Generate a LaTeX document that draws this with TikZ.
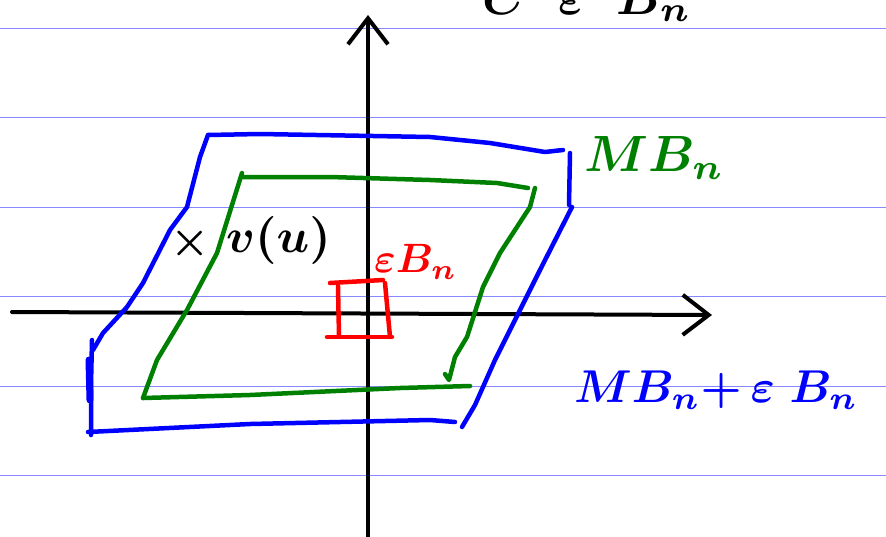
\documentclass[tikz,border=0pt]{standalone}
\usepackage{graphicx}
\usetikzlibrary{arrows.meta}
\definecolor{rule}{RGB}{135,135,255}
\definecolor{pen blue}{RGB}{0,0,255}
\definecolor{pen green}{RGB}{0,128,0}
\definecolor{pen red}{RGB}{255,0,0}
\newcommand{\hand}[2]{\scalebox{#1}{\boldmath#2}}
\begin{document}
\begin{tikzpicture}[x=1pt,y=-1pt,line cap=round,line join=round,
	ruled/.style={draw=rule,line width=1pt},
	axis/.style={line width=4pt,-{Straight Barb[length=26pt,width=40pt]}},
	pen/.style={line width=4.5pt}]
	\useasboundingbox (0,0) rectangle (886,536);
	\clip (0,0) rectangle (886,536);
	\foreach \y in {28,117.5,207,296.5,386,475.5}\draw[ruled] (0,\y)--(886,\y);
		\path
	(12,312) coordinate (W)
	(712,315) coordinate (E)
	(368,540) coordinate (S)
	(368,15) coordinate (N)
	;
	\draw[axis] (W)--(E);
	\draw[axis] (S)--(N);
	% outer set
	\draw[pen,pen blue] (208,135)--(260,134)--(430,137)--(490,143)--(545,152)--(563,150);
	\draw[pen,pen blue] (570,153)--(569,205);
	\draw[pen,pen blue] (572,207)--(540,270)--(520,310)--(495,360)--(475,405)--(462,427);
	\draw[pen,pen blue] (455,422)--(430,420)--(250,424)--(88,432);
	\draw[pen,pen blue] (92,340)--(91,385)--(91,435);
	\draw[line width=7pt,pen blue] (89,360)--(90,400);
	\draw[pen,pen blue] (208,135)--(200,157)--(187,207)--(170,230)--(143,283)--(127,307)--(103,333)--(93,350);
	% inner set
	\draw[pen,pen green] (242,173)--(217,253)--(187,310)--(157,360)--(143,398);
	\draw[pen,pen green] (242,177)--(330,177)--(430,180)--(497,183)--(528,188);
	\draw[pen,pen green] (535,188)--(530,207)--(500,253)--(483,287)--(467,337)--(455,357)--(449,380)--(445,374);
	\draw[pen,pen green] (143,398)--(250,395)--(400,388)--(470,386);
	% small box
	\draw[pen,pen red] (330,283)--(383,280);
	\draw[pen,pen red] (338,286)--(339,336);
	\draw[pen,pen red] (385,283)--(390,337);
	\draw[pen,pen red] (327,337)--(392,337);
	% labels
	\node (pt) at (190,243) {\hand{4.4}{$\times$}};
	\node[anchor=west,inner sep=0pt] (vu) at (226,240) {\hand{4.8}{$v(u)$}};
	\node[text=pen red,anchor=west,inner sep=0pt] (eps) at (374,262) {\hand{4.1}{$\varepsilon B_n$}};
	\node[text=pen green,anchor=west,inner sep=0pt] (mb) at (584,158) {\hand{5.1}{$MB_n$}};
	\node[text=pen blue,anchor=west,inner sep=0pt] (sum) at (574,390) {\hand{4.6}{$MB_n{+}\,\varepsilon\;B_n$}};
	\node[anchor=base west,inner sep=0pt] (top) at (482,14) {\hand{5}{$C\;\;\varepsilon\;\;B_n$}};
\end{tikzpicture}
\end{document}
